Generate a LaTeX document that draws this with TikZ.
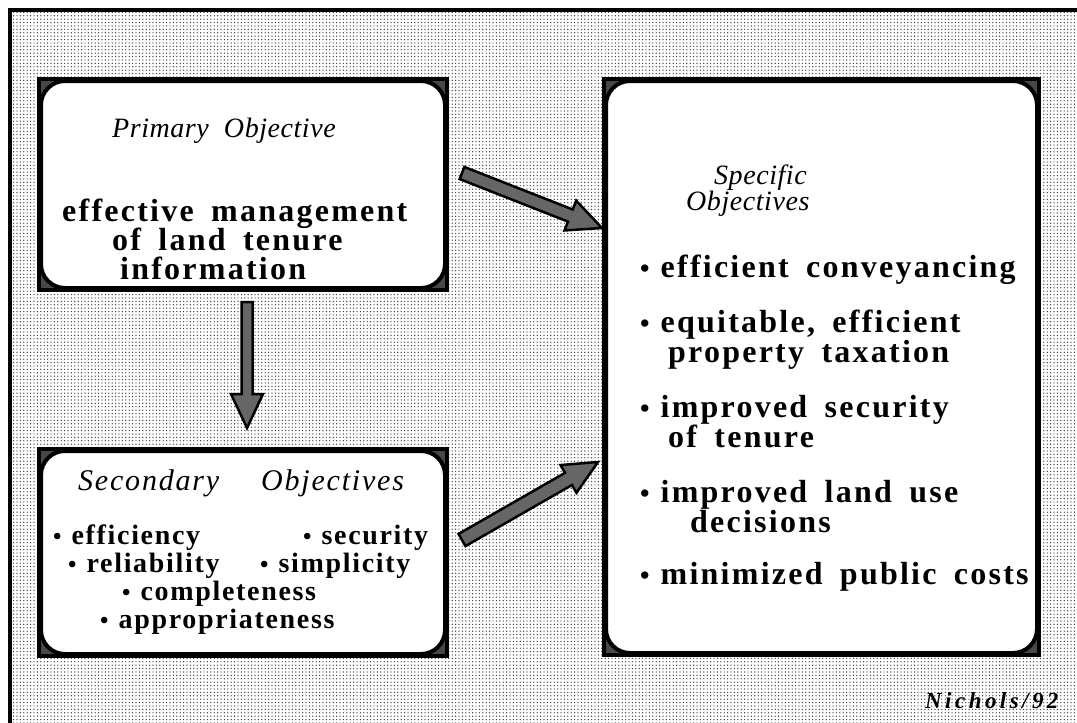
\documentclass[tikz,border=0pt]{standalone}
\usepackage{fontspec}
\setmainfont{Liberation Serif}
\newfontfamily\slide{Liberation Serif}[LetterSpace=7, WordSpace=1.7]
\newfontfamily\slidenarrow{Liberation Serif}[LetterSpace=2]
\newfontfamily\slidewide{Liberation Serif}[LetterSpace=6, WordSpace=1.4]
\newfontfamily\sigfont{Liberation Serif}[LetterSpace=15]
\usetikzlibrary{calc,patterns.meta}

% list bullets followed by a wide gap
\newcommand\dotitem{{\fontsize{27}{27}\selectfont •}\hspace{11pt}}
\newcommand\smalldot{{\fontsize{24}{24}\selectfont •}\hspace{10pt}}

% fine halftone screen for the slide background
\tikzdeclarepattern{
  name=halftone, type=uncolored,
  bounding box={(-1.7pt,-1.7pt) and (1.7pt,1.7pt)},
  tile size={(3.4pt,3.4pt)},
  code={\fill (0pt,0pt) circle (0.7pt);}
}

\tikzset{
  boxouter/.style={draw=black, fill=black!72, line width=4pt, inner sep=0pt, rectangle},
  boxinner/.style={draw=black, fill=white, line width=4pt, inner sep=0pt, rectangle, rounded corners=24pt},
  body/.style={font={\slide\bfseries\fontsize{32}{32}\selectfont}, anchor=base west, inner sep=0pt},
  smallbody/.style={font={\slidewide\bfseries\fontsize{28}{28}\selectfont}, anchor=base west, inner sep=0pt},
  heading/.style={font={\slidenarrow\itshape\fontsize{28}{28}\selectfont}, anchor=base west, inner sep=0pt},
  wideheading/.style={font={\slidewide\itshape\fontsize{30}{30}\selectfont}, anchor=base west, inner sep=0pt},
  signature/.style={font={\sigfont\bfseries\itshape\fontsize{23}{23}\selectfont}, anchor=base west, inner sep=0pt},
  blockarrow/.style={draw=black, fill=black!60, line width=2.5pt, line join=miter,
    to path={let \p1=(\tikztostart), \p2=(\tikztotarget),
      \n1={atan2(\y2-\y1,\x2-\x1)} in
      ($(\p1)+(\n1+90:#1)$)
      -- ($(\p2)+(\n1+180:34pt)+(\n1+90:#1)$)
      -- ($(\p2)+(\n1+180:34pt)+(\n1+90:16pt)$)
      -- (\p2)
      -- ($(\p2)+(\n1+180:34pt)+(\n1-90:16pt)$)
      -- ($(\p2)+(\n1+180:34pt)+(\n1-90:#1)$)
      -- ($(\p1)+(\n1-90:#1)$) -- cycle}},
  blockarrow/.default=5.5pt
}

\begin{document}
\begin{tikzpicture}[x=1pt, y=-1pt]
\useasboundingbox (0,0) rectangle (1077,723);

% background and frame
\fill[white] (0,0) rectangle (1077,723);
\fill[pattern=halftone, pattern color=black!75] (10,10) rectangle (1077,723);
\draw[line width=4pt] (1077,10) -- (10,10) -- (10,723);

% boxes
\node[boxouter, minimum width=408pt, minimum height=211pt] (prim) at (243,184.5) {};
\node[boxinner, minimum width=404pt, minimum height=207pt] (primin) at (243,184.5) {};
\node[boxouter, minimum width=408pt, minimum height=207pt] (sec) at (243,552.5) {};
\node[boxinner, minimum width=404pt, minimum height=203pt] (secin) at (243,552.5) {};
\node[boxouter, minimum width=435pt, minimum height=576pt] (spec) at (821.5,367) {};
\node[boxinner, minimum width=431pt, minimum height=572pt] (specin) at (821.5,367) {};

% primary objective
\node[heading] (ph) at (112,137) {Primary\ \ Objective};
\node[body] (p1) at (62,221) {effective management};
\node[body] (p2) at (112,250.5) {of land tenure};
\node[body] (p3) at (120,279.5) {information};

% secondary objectives
\node[wideheading] (sh) at (78,490) {Secondary\hspace{42pt}Objectives};
\node[smallbody] (s1) at (53,544) {\smalldot efficiency};
\node[smallbody] (s2) at (303,544) {\smalldot security};
\node[smallbody] (s3) at (68,572) {\smalldot reliability};
\node[smallbody] (s4) at (260,572) {\smalldot simplicity};
\node[smallbody] (s5) at (122,600) {\smalldot completeness};
\node[smallbody] (s6) at (100,628) {\smalldot appropriateness};

% specific objectives
\node[heading] (th1) at (714,184) {Specific};
\node[heading] (th2) at (686,210) {Objectives};
\node[body] (t1) at (640,277) {\dotitem efficient conveyancing};
\node[body] (t2) at (640,332.5) {\dotitem equitable, efficient};
\node[body] (t2b) at (668,362) {property taxation};
\node[body] (t3) at (640,417.5) {\dotitem improved security};
\node[body] (t3b) at (668,447) {of tenure};
\node[body] (t4) at (640,502.5) {\dotitem improved land use};
\node[body] (t4b) at (690,532) {decisions};
\node[body] (t5) at (640,584) {\dotitem minimized public costs};

\node[signature] (sig) at (925,708) {Nichols/92};

% block arrows between the boxes
\coordinate (a1s) at (462,173);
\coordinate (a1e) at (602,228);
\coordinate (a2s) at (462,540);
\coordinate (a2e) at (598,462);
\coordinate (a3s) at (247,302);
\coordinate (a3e) at (247,428);
\draw[blockarrow=6.5pt] (a1s) to (a1e);
\draw[blockarrow=7pt] (a2s) to (a2e);
\draw[blockarrow] (a3s) to (a3e);
\end{tikzpicture}
\end{document}
